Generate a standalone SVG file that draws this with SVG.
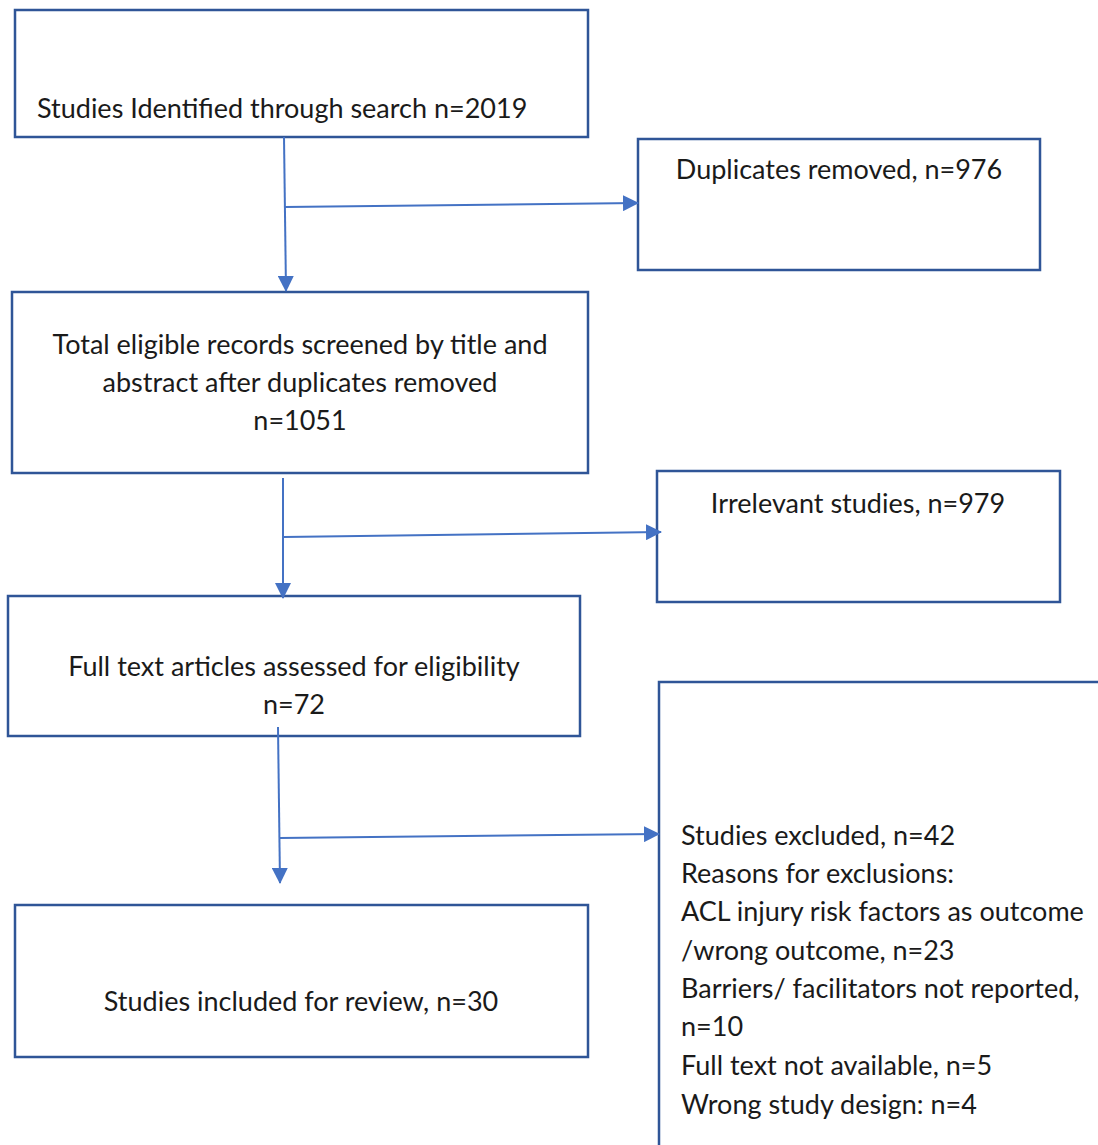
<svg xmlns="http://www.w3.org/2000/svg" width="1098" height="1145" viewBox="0 0 1098 1145">
<style>
.box{fill:#fff;stroke:#2f5597;stroke-width:2.5}
.t{font-family:Lato,"Liberation Sans",sans-serif;font-size:27px;fill:#1a1a1a}
.c{text-anchor:middle}
.con{stroke:#4472c4;stroke-width:2;fill:none}
</style>
<defs>
<marker id="ah" markerUnits="userSpaceOnUse" markerWidth="16" markerHeight="16" refX="15" refY="8" orient="auto">
<path d="M0,0 L16,8 L0,16 Z" fill="#4472c4"/>
</marker>
</defs>
<rect width="1098" height="1145" fill="#fff"/>
<g id="n1"><rect class="box" x="15" y="10" width="573" height="127"/>
<text class="t" x="37" y="118">Studies Identified through search n=2019</text></g>
<g id="n2"><rect class="box" x="638" y="139" width="402" height="131"/>
<text class="t c" x="839" y="179">Duplicates removed, n=976</text></g>
<g id="n3"><rect class="box" x="12" y="292" width="576" height="181"/>
<text class="t c" x="300" y="354">Total eligible records screened by title and</text>
<text class="t c" x="300" y="392">abstract after duplicates removed</text>
<text class="t c" x="300" y="430">n=1051</text></g>
<g id="n4"><rect class="box" x="657" y="471" width="403" height="131"/>
<text class="t c" x="858" y="513">Irrelevant studies, n=979</text></g>
<g id="n5"><rect class="box" x="8" y="596" width="572" height="140"/>
<text class="t c" x="294" y="676">Full text articles assessed for eligibility</text>
<text class="t c" x="294" y="714">n=72</text></g>
<g id="n6"><rect class="box" x="659" y="682" width="460" height="480"/>
<text class="t" x="681" y="845">Studies excluded, n=42</text>
<text class="t" x="681" y="883">Reasons for exclusions:</text>
<text class="t" x="681" y="921">ACL injury risk factors as outcome</text>
<text class="t" x="681" y="960">/wrong outcome, n=23</text>
<text class="t" x="681" y="998">Barriers/ facilitators not reported,</text>
<text class="t" x="681" y="1036">n=10</text>
<text class="t" x="681" y="1075">Full text not available, n=5</text>
<text class="t" x="681" y="1114">Wrong study design: n=4</text></g>
<g id="n7"><rect class="box" x="15" y="905" width="573" height="152"/>
<text class="t c" x="301" y="1011">Studies included for review, n=30</text></g>
<g id="connectors">
<line class="con" x1="284" y1="137" x2="286" y2="291" marker-end="url(#ah)"/>
<line class="con" x1="285" y1="207" x2="638" y2="203" marker-end="url(#ah)"/>
<line class="con" x1="283" y1="478" x2="283" y2="598" marker-end="url(#ah)"/>
<line class="con" x1="284" y1="537" x2="661" y2="532" marker-end="url(#ah)"/>
<line class="con" x1="278" y1="727" x2="280" y2="883" marker-end="url(#ah)"/>
<line class="con" x1="280" y1="838" x2="659" y2="834" marker-end="url(#ah)"/>
</g>
</svg>
